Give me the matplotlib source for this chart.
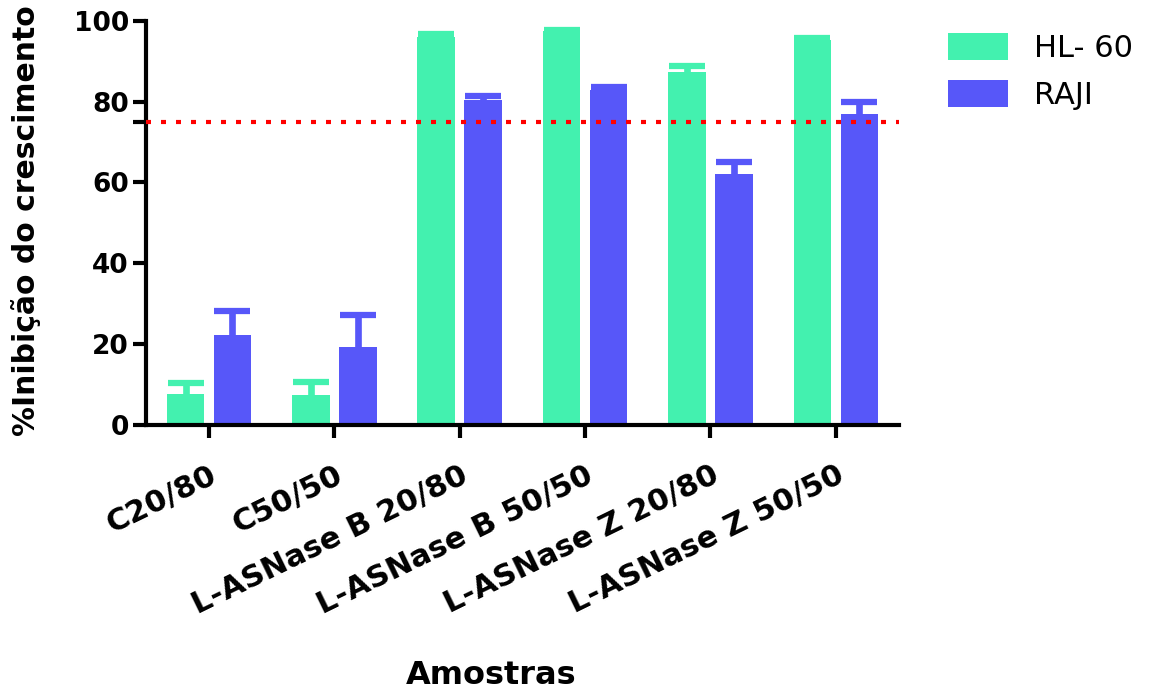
import numpy as np
import matplotlib
matplotlib.use("Agg")
import matplotlib.pyplot as plt

samples = ["C20/80", "C50/50", "L-ASNase B 20/80", "L-ASNase B 50/50",
           "L-ASNase Z 20/80", "L-ASNase Z 50/50"]
hl60 = [7.7, 7.4, 96.0, 97.5, 87.3, 95.2]
hl60_err = [2.8, 3.3, 0.6, 0.3, 1.5, 0.6]
raji = [22.3, 19.4, 80.3, 82.8, 62.0, 77.0]
raji_err = [6.0, 7.9, 1.2, 0.8, 3.1, 2.9]
cutoff = 75

GREEN = "#43F1AF"
BLUE = "#5757F9"

plt.rcParams["font.family"] = ["DejaVu Sans"]

fig = plt.figure(figsize=(11.52, 6.9), dpi=100)
ax = fig.add_axes([0.127, 0.384, 0.653, 0.586])

x = np.arange(len(samples))
w = 0.30
off = 0.187


def upper_err(xs, ys, err, color):
    # error bar pointing up only: drop the lower cap
    _, caps, _ = ax.errorbar(xs, ys, yerr=[np.zeros(len(xs)), err],
                             fmt="none", ecolor=color, elinewidth=4.8,
                             capsize=13, capthick=4.5, zorder=1)
    caps[0].remove()


ax.bar(x - off, hl60, w, color=GREEN, label="HL- 60", zorder=2)
ax.bar(x + off, raji, w, color=BLUE, label="RAJI", zorder=2)
upper_err(x - off, hl60, hl60_err, GREEN)
upper_err(x + off, raji, raji_err, BLUE)

ax.axhline(cutoff, color="red", lw=3, linestyle=(0, (1.2, 2.4)),
           dash_capstyle="butt", zorder=3)

ax.set_xlim(-0.5, 5.5)
ax.set_ylim(0, 100)
ax.set_yticks([0, 20, 40, 60, 75, 80, 100])
ax.set_yticklabels(["0", "20", "40", "60", "", "80", "100"])
ax.set_xticks(x)
ax.set_xticklabels(samples, rotation=26, ha="right", va="top",
                   rotation_mode="anchor")

for s in ["top", "right"]:
    ax.spines[s].set_visible(False)
for s in ["left", "bottom"]:
    ax.spines[s].set_linewidth(3)
ax.tick_params(axis="both", width=3, length=9.5)
ax.tick_params(axis="y", pad=3, labelsize=19)
ax.tick_params(axis="x", pad=16, labelsize=22)
for lab in ax.get_xticklabels() + ax.get_yticklabels():
    lab.set_fontweight("bold")

ax.set_ylabel("%Inibição do crescimento", fontsize=21.5, fontweight="bold")
ax.yaxis.set_label_coords(-0.14, 0.505)
fig.text(491 / 1152, 1 - 675 / 690, "Amostras", fontsize=23,
         fontweight="bold", ha="center", va="center")

fig.legend(loc="upper left", bbox_to_anchor=(948 / 1152, 1 - 33 / 690),
           frameon=False, fontsize=22, handlelength=1.95, handleheight=1.0,
           handletextpad=0.85, labelspacing=0.55, borderpad=0,
           borderaxespad=0)

fig.savefig("out.png", dpi=100)
